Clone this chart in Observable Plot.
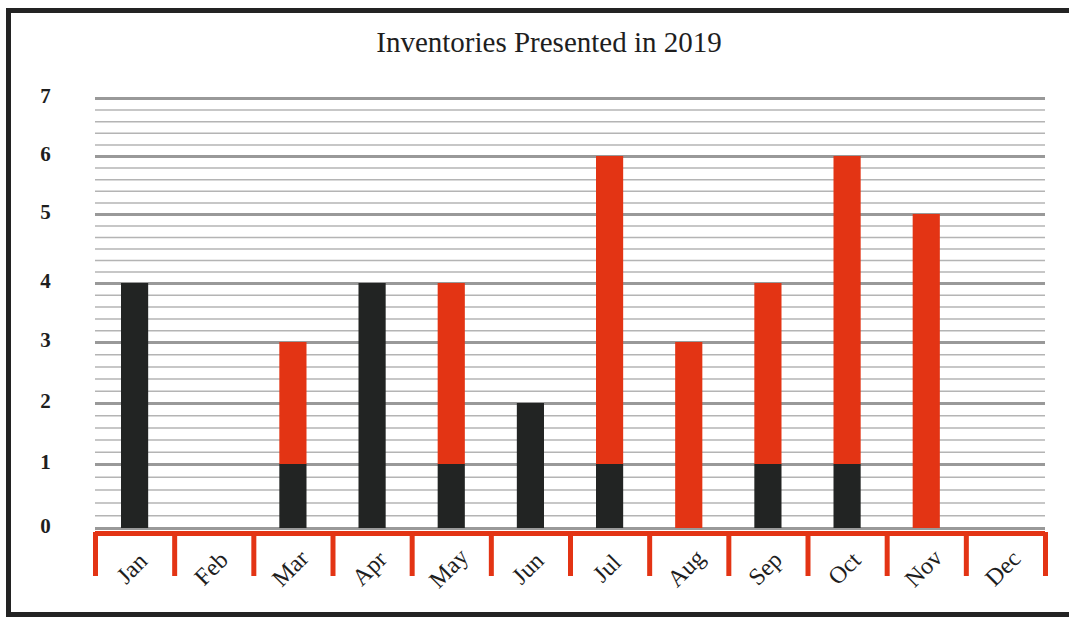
<!DOCTYPE html>
<html>
<head>
<meta charset="utf-8">
<script src="https://cdn.jsdelivr.net/npm/d3@7"></script>
<script src="https://cdn.jsdelivr.net/npm/@observablehq/plot@0.6"></script>
<style>
  html, body { margin: 0; padding: 0; background: #fff; overflow: hidden; }
  #wrap { position: relative; width: 1069px; height: 617px; overflow: hidden; }
  #frame { position: absolute; left: 6px; top: 8px; width: 1200px; height: 609px; box-sizing: border-box; border: 5px solid #232323; }
  #title { position: absolute; top: 26px; left: 0; width: 1098px; text-align: center; font-family: "Liberation Serif", "DejaVu Serif", serif; font-size: 29px; color: #1e1e1e; }
  #chart { position: absolute; left: 0; top: 0; }
</style>
</head>
<body>
<div id="wrap">
  <div id="frame"></div>
  <div id="title">Inventories Presented in 2019</div>
  <div id="chart"></div>
</div>
<script>
const months = ["Jan","Feb","Mar","Apr","May","Jun","Jul","Aug","Sep","Oct","Nov","Dec"];
const blackValues = [4, 0, 1, 4, 1, 2, 1, 0, 1, 1, 0, 0];
const redValues   = [0, 0, 2, 0, 3, 0, 5, 3, 3, 5, 5, 0];
const yTicks = [0, 1, 2, 3, 4, 5, 6, 7];
// minor gridlines: four between most integers, five between 4 and 5 (as in the original)
const minorSteps = [5, 5, 5, 5, 6, 5, 5];

const RED = "#e33414";
const BLACK = "#222423";

const segments = [];
months.forEach((m, i) => {
  if (blackValues[i] > 0) segments.push({i, y1: 0, y2: blackValues[i], fill: BLACK});
  if (redValues[i] > 0) segments.push({i, y1: blackValues[i], y2: blackValues[i] + redValues[i], fill: RED});
});
const monthRows = months.map((m, i) => ({i, m}));
const boundaries = d3.range(months.length + 1).map(k => k - 0.5);
const minorTicks = minorSteps.flatMap((n, v) => d3.range(1, n).map(k => v + k / n));

const plot = Plot.plot({
  width: 1069,
  height: 617,
  marginLeft: 95,
  marginRight: 24,
  marginTop: 98,
  marginBottom: 89,
  style: {background: "transparent", fontFamily: "'Liberation Serif', 'DejaVu Serif', serif"},
  x: {type: "linear", domain: [-0.5, 11.5], axis: null},
  y: {type: "linear", domain: yTicks, range: [528, 464, 403, 342, 283, 214, 156, 98], axis: null},
  marks: [
    Plot.ruleY(minorTicks, {stroke: "#b4b4b4", strokeWidth: 1.5}),
    Plot.ruleY(yTicks, {stroke: "#999999", strokeWidth: 3}),
    Plot.rectY(segments, {
      x1: d => d.i - 0.5, x2: d => d.i + 0.5, y1: "y1", y2: "y2",
      fill: d => d.fill, insetLeft: 26, insetRight: 26
    }),
    Plot.ruleY([0], {stroke: RED, strokeWidth: 5, dy: 5}),
    Plot.ruleX(boundaries, {x: d => d, y1: 0, y2: 0, insetTop: 4, insetBottom: -48, stroke: RED, strokeWidth: 5}),
    Plot.text(monthRows, {
      x: "i", y: 0, text: "m", dy: 40, dx: -3, rotate: -45,
      textAnchor: "middle", fontSize: 24, fill: "#1e1e1e"
    }),
    Plot.text(yTicks, {
      y: d => d, text: d => String(d), frameAnchor: "left", dx: -50, dy: -2,
      textAnchor: "middle", fontSize: 21, fontWeight: "bold", fill: "#1e1e1e"
    })
  ]
});
document.getElementById("chart").appendChild(plot);
</script>
</body>
</html>
